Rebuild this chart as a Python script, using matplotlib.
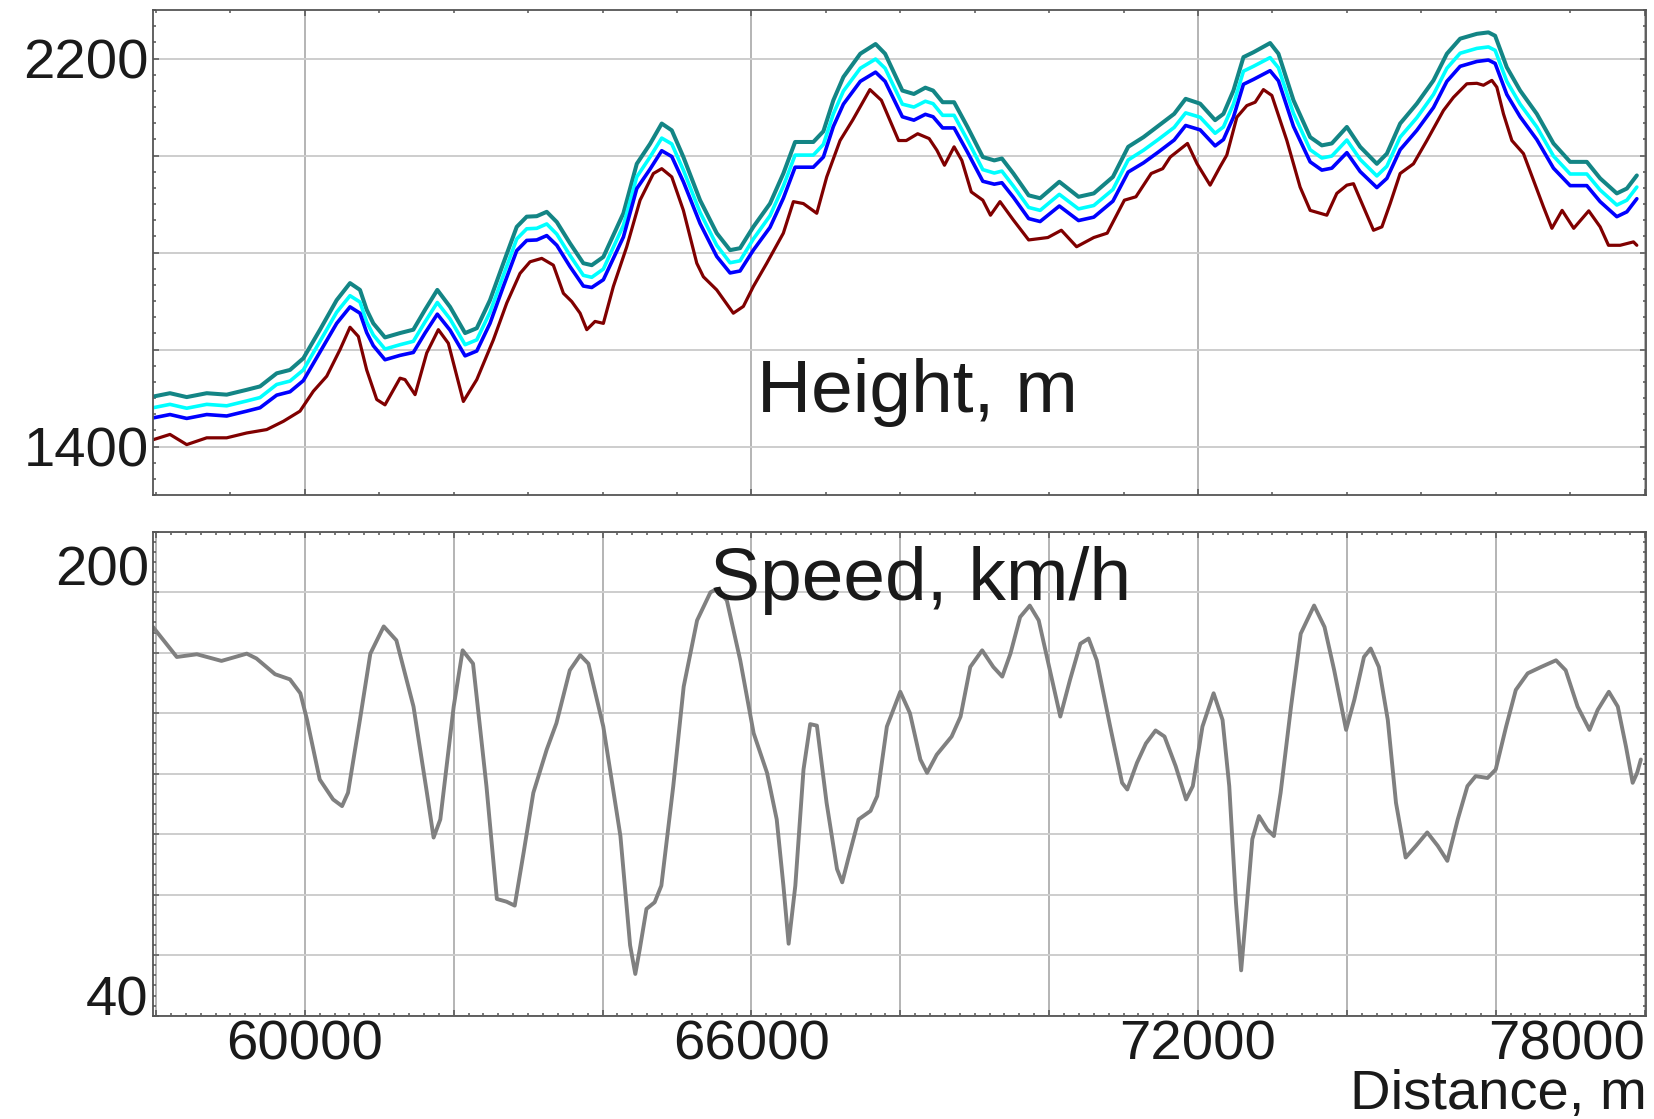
import matplotlib
matplotlib.use("Agg")
import matplotlib.pyplot as plt
from matplotlib.ticker import MultipleLocator
from matplotlib.transforms import ScaledTranslation

plt.rcParams['font.family'] = ['Liberation Sans', 'DejaVu Sans']

# ---- height profiles (m) ----
dist_top = [57960, 58188, 58413, 58682, 58950, 59219, 59398, 59622, 59801, 59980,
            60204, 60428, 60607, 60741, 60831, 60920, 61077, 61279, 61458, 61615,
            61780, 61951, 62153, 62310, 62488, 62667, 62847, 62981, 63116, 63250,
            63385, 63563, 63742, 63855, 64011, 64280, 64460, 64638, 64795, 64930,
            65086, 65310, 65534, 65713, 65847, 66026, 66250, 66429, 66587, 66832,
            66967, 67101, 67236, 67463, 67668, 67796, 68028, 68183, 68337, 68441,
            68569, 68723, 68903, 69109, 69263, 69365, 69520, 69725, 69879, 70137,
            70395, 70600, 70857, 71062, 71268, 71474, 71680, 71834, 72029, 72230,
            72342, 72476, 72611, 72745, 72969, 73081, 73283, 73507, 73664, 73798,
            74000, 74179, 74403, 74538, 74716, 74940, 75164, 75344, 75522, 75747,
            75902, 75992, 76149, 76328, 76552, 76776, 77000, 77224, 77403, 77627,
            77762, 77896]
teal = [1503, 1510, 1502, 1510, 1507, 1517, 1524, 1551, 1558, 1582,
        1641, 1702, 1737, 1723, 1682, 1654, 1625, 1634, 1641, 1682,
        1723, 1688, 1634, 1644, 1702, 1778, 1853, 1874, 1875, 1884,
        1863, 1819, 1778, 1774, 1791, 1881, 1983, 2024, 2066, 2052,
        1997, 1908, 1840, 1805, 1809, 1853, 1901, 1963, 2028, 2028,
        2050, 2114, 2162, 2210, 2230, 2210, 2134, 2127, 2140, 2134,
        2110, 2110, 2059, 1997, 1990, 1994, 1963, 1918, 1912, 1946,
        1915, 1922, 1956, 2018, 2038, 2062, 2086, 2117, 2107, 2073,
        2086, 2134, 2203, 2213, 2232, 2210, 2114, 2038, 2021, 2025,
        2059, 2018, 1983, 2004, 2066, 2107, 2155, 2210, 2241, 2251,
        2254, 2247, 2182, 2134, 2086, 2025, 1987, 1987, 1953, 1922,
        1932, 1959]
cyan = [1480, 1487, 1479, 1487, 1484, 1494, 1501, 1528, 1535, 1558,
        1617, 1677, 1711, 1698, 1657, 1630, 1601, 1610, 1617, 1657,
        1697, 1663, 1610, 1620, 1677, 1753, 1828, 1849, 1850, 1859,
        1838, 1794, 1753, 1749, 1766, 1856, 1956, 1997, 2036, 2024,
        1970, 1883, 1815, 1779, 1783, 1828, 1876, 1937, 2001, 2001,
        2023, 2086, 2133, 2180, 2199, 2180, 2106, 2100, 2112, 2107,
        2083, 2083, 2032, 1971, 1964, 1968, 1937, 1893, 1887, 1920,
        1890, 1897, 1930, 1991, 2011, 2034, 2058, 2088, 2079, 2046,
        2059, 2106, 2174, 2184, 2202, 2181, 2087, 2012, 1995, 1999,
        2032, 1992, 1958, 1978, 2038, 2078, 2126, 2180, 2211, 2221,
        2224, 2217, 2153, 2106, 2059, 1999, 1962, 1962, 1929, 1898,
        1908, 1935]
blue = [1459, 1466, 1458, 1466, 1463, 1473, 1480, 1506, 1513, 1536,
        1595, 1654, 1688, 1675, 1635, 1608, 1579, 1588, 1594, 1634,
        1673, 1640, 1587, 1597, 1654, 1730, 1804, 1825, 1826, 1835,
        1815, 1771, 1731, 1728, 1744, 1832, 1932, 1972, 2010, 1998,
        1946, 1860, 1792, 1758, 1762, 1805, 1852, 1912, 1976, 1976,
        1997, 2060, 2106, 2153, 2172, 2153, 2080, 2073, 2085, 2080,
        2057, 2057, 2007, 1947, 1941, 1944, 1914, 1870, 1864, 1896,
        1866, 1873, 1906, 1966, 1985, 2008, 2032, 2062, 2053, 2020,
        2033, 2079, 2147, 2157, 2175, 2154, 2060, 1987, 1970, 1974,
        2006, 1967, 1934, 1953, 2012, 2052, 2099, 2153, 2184, 2194,
        2197, 2190, 2126, 2080, 2033, 1974, 1938, 1938, 1905, 1874,
        1884, 1911]

dist_red = [57960, 58188, 58413, 58682, 58950, 59219, 59488, 59711, 59935, 60114,
            60294, 60473, 60607, 60719, 60831, 60966, 61077, 61279, 61346, 61481,
            61638, 61794, 61928, 62130, 62310, 62533, 62713, 62891, 63026, 63183,
            63339, 63474, 63586, 63698, 63788, 63899, 64011, 64145, 64325, 64504,
            64683, 64795, 64930, 65086, 65266, 65355, 65534, 65757, 65892, 66026,
            66206, 66429, 66564, 66698, 66878, 67012, 67191, 67360, 67592, 67746,
            67977, 68081, 68234, 68388, 68492, 68594, 68723, 68827, 68954, 69109,
            69212, 69340, 69520, 69725, 69983, 70164, 70369, 70600, 70780, 71011,
            71166, 71371, 71526, 71628, 71859, 71988, 72163, 72297, 72387, 72522,
            72656, 72768, 72879, 72992, 73194, 73372, 73507, 73731, 73865, 74000,
            74089, 74224, 74358, 74471, 74582, 74716, 74895, 75075, 75298, 75432,
            75612, 75747, 75835, 75948, 76015, 76104, 76217, 76373, 76507, 76642,
            76755, 76892, 77048, 77250, 77403, 77515, 77672, 77851, 77896]
maroon = [1414, 1425, 1404, 1418, 1418, 1428, 1435, 1452, 1473, 1514,
          1545, 1600, 1646, 1627, 1558, 1497, 1486, 1541, 1538, 1507,
          1593, 1641, 1613, 1493, 1538, 1620, 1696, 1757, 1781, 1788,
          1774, 1716, 1699, 1675, 1641, 1658, 1654, 1730, 1812, 1908,
          1963, 1973, 1956, 1887, 1778, 1750, 1723, 1675, 1689, 1730,
          1778, 1840, 1905, 1901, 1881, 1956, 2031, 2073, 2136, 2114,
          2031, 2031, 2045, 2035, 2011, 1980, 2018, 1990, 1925, 1908,
          1877, 1905, 1867, 1826, 1831, 1846, 1812, 1831, 1840, 1908,
          1915, 1963, 1973, 1997, 2025, 1983, 1939, 1977, 2001, 2079,
          2103, 2110, 2136, 2124, 2031, 1935, 1887, 1877, 1922, 1939,
          1942, 1894, 1846, 1853, 1901, 1963, 1983, 2031, 2093, 2120,
          2148, 2149, 2145, 2155, 2141, 2086, 2031, 2004, 1949, 1894,
          1850, 1887, 1850, 1886, 1853, 1815, 1815, 1822, 1815]

# ---- speed (km/h) ----
dist_speed = [57960, 58280, 58550, 58880, 59220, 59350, 59600, 59800, 59940, 60030,
              60200, 60380, 60500, 60580, 60740, 60880, 61060, 61230, 61460, 61640,
              61730, 61820, 62000, 62120, 62260, 62440, 62580, 62710, 62820, 62940,
              63070, 63250, 63380, 63560, 63700, 63810, 64010, 64240, 64370, 64440,
              64500, 64590, 64700, 64790, 64950, 65090, 65270, 65450, 65540, 65670,
              65850, 66030, 66210, 66340, 66430, 66500, 66590, 66700, 66790, 66880,
              67010, 67150, 67220, 67300, 67440, 67600, 67690, 67820, 68000, 68130,
              68270, 68360, 68490, 68690, 68810, 68940, 69100, 69250, 69370, 69480,
              69610, 69740, 69860, 69990, 70150, 70280, 70420, 70530, 70640, 70820,
              70980, 71050, 71180, 71300, 71430, 71550, 71700, 71840, 71930, 72060,
              72210, 72330, 72420, 72510, 72580, 72640, 72730, 72820, 72930, 73020,
              73110, 73250, 73380, 73560, 73700, 73830, 73990, 74100, 74230, 74320,
              74430, 74550, 74660, 74790, 74930, 75080, 75220, 75350, 75490, 75620,
              75730, 75890, 76000, 76140, 76270, 76430, 76610, 76810, 76940, 77100,
              77260, 77370, 77520, 77640, 77750, 77840, 77900, 77950]
speed = [168.5, 158.6, 159.5, 157.3, 159.7, 158.1, 152.9, 151.2, 146.6, 137.8,
         118.1, 111.5, 109.3, 113.7, 137.8, 159.7, 168.7, 164.1, 142.2, 113.7,
         98.9, 104.9, 142.2, 160.8, 156.4, 115.9, 78.6, 77.7, 76.4, 94.0,
         113.7, 128.0, 136.7, 154.2, 159.2, 156.4, 135.6, 99.4, 63.3, 53.8,
         62.0, 75.3, 77.5, 83.0, 115.9, 148.8, 170.7, 180.0, 181.1, 177.3,
         157.5, 133.4, 120.3, 104.9, 83.0, 63.8, 83.0, 121.4, 136.4, 135.9,
         110.4, 88.5, 84.1, 91.8, 104.9, 107.7, 112.6, 135.6, 147.1, 140.0,
         124.7, 120.3, 126.3, 132.3, 138.9, 155.3, 160.8, 155.3, 152.1, 159.7,
         171.8, 175.6, 170.7, 156.4, 138.9, 151.0, 163.0, 164.7, 157.5, 135.6,
         117.0, 114.8, 123.6, 130.0, 134.3, 132.3, 122.5, 111.5, 115.9, 135.6,
         146.6, 137.8, 115.9, 77.5, 55.0, 72.0, 98.4, 106.0, 101.6, 99.4,
         113.7, 142.2, 166.3, 175.6, 168.5, 154.2, 134.5, 144.4, 158.6, 161.4,
         155.3, 137.8, 110.4, 92.3, 96.2, 100.6, 96.2, 91.2, 104.9, 115.9,
         119.2, 118.6, 121.4, 135.6, 147.7, 153.2, 155.3, 157.5, 154.2, 142.2,
         134.5, 141.1, 147.1, 142.2, 129.0, 117.0, 120.3, 124.7]

height_ticks = [1400, 1600, 1800, 2000, 2200]
height_labels = ['1400', '', '', '', '2200']
speed_ticks = [40, 60, 80, 100, 120, 140, 160, 180, 200]
speed_labels = ['40', '', '', '', '', '', '', '', '200']
dist_ticks = [58000, 60000, 62000, 64000, 66000, 68000, 70000, 72000, 74000, 76000, 78000]
dist_labels = ['', '60000', '', '', '66000', '', '', '72000', '', '', '78000']

fig = plt.figure(figsize=(16.54, 11.19), dpi=100)
ax1 = fig.add_axes([0.0925, 0.5576, 0.9027, 0.4334])
ax2 = fig.add_axes([0.0925, 0.0923, 0.9027, 0.4325])

line_kw = dict(solid_joinstyle='round', solid_capstyle='round')
ax1.plot(dist_top, teal, color='#138585', lw=2.9, **line_kw)
ax1.plot(dist_top, cyan, color='#00ffff', lw=2.6, **line_kw)
ax1.plot(dist_top, blue, color='#0000ff', lw=2.6, **line_kw)
ax1.plot(dist_red, maroon, color='#800000', lw=2.3, **line_kw)
ax2.plot(dist_speed, speed, color='#808080', lw=2.8, **line_kw)

for ax in (ax1, ax2):
    ax.set_xlim(57960, 78020)
    ax.set_axisbelow(True)
    ax.tick_params(which='both', direction='in', top=True, right=True,
                   color='#555555', width=1.1, labelsize=40.5, labelcolor='#1a1a1a')
    ax.tick_params(which='major', length=4.5, pad=3)
    ax.tick_params(which='minor', length=2.5)
    for s in ax.spines.values():
        s.set_color('#555555')
        s.set_linewidth(1.3)
    ax.xaxis.grid(True, which='major', color='#a8a8a8', lw=1.2)
    ax.yaxis.grid(True, which='major', color='#cdcdcd', lw=1.4)

ax1.set_ylim(1300, 2300)
ax1.xaxis.set_major_locator(MultipleLocator(6000))
ax1.xaxis.set_minor_locator(MultipleLocator(1000))
ax1.set_yticks(height_ticks, labels=height_labels)
ax1.yaxis.set_minor_locator(MultipleLocator(200 / 6))
ax1.tick_params(labelbottom=False)

ax2.set_ylim(40, 200)
ax2.set_xticks(dist_ticks, labels=dist_labels)
ax2.xaxis.set_minor_locator(MultipleLocator(200))
ax2.set_yticks(speed_ticks, labels=speed_labels)
ax2.yaxis.set_minor_locator(MultipleLocator(20 / 6))

ax1.text(0.512, 0.171, 'Height, m', transform=ax1.transAxes, fontsize=54,
         ha='center', va='baseline', color='#1a1a1a')
ax2.text(0.514, 0.859, 'Speed, km/h', transform=ax2.transAxes, fontsize=54,
         ha='center', va='baseline', color='#1a1a1a')
fig.text(0.9958, 0.0089, 'Distance, m', fontsize=40.5, ha='right', va='baseline',
         color='#1a1a1a')

# edge labels pulled inward, as in the original
ylabs = ax2.get_yticklabels()
ylabs[0].set_transform(ylabs[0].get_transform() + ScaledTranslation(0, 0.2, fig.dpi_scale_trans))
ylabs[-1].set_transform(ylabs[-1].get_transform() + ScaledTranslation(0, -0.34, fig.dpi_scale_trans))
ax2.get_xticklabels()[-1].set_horizontalalignment('right')

fig.savefig('out.png', dpi=100)
